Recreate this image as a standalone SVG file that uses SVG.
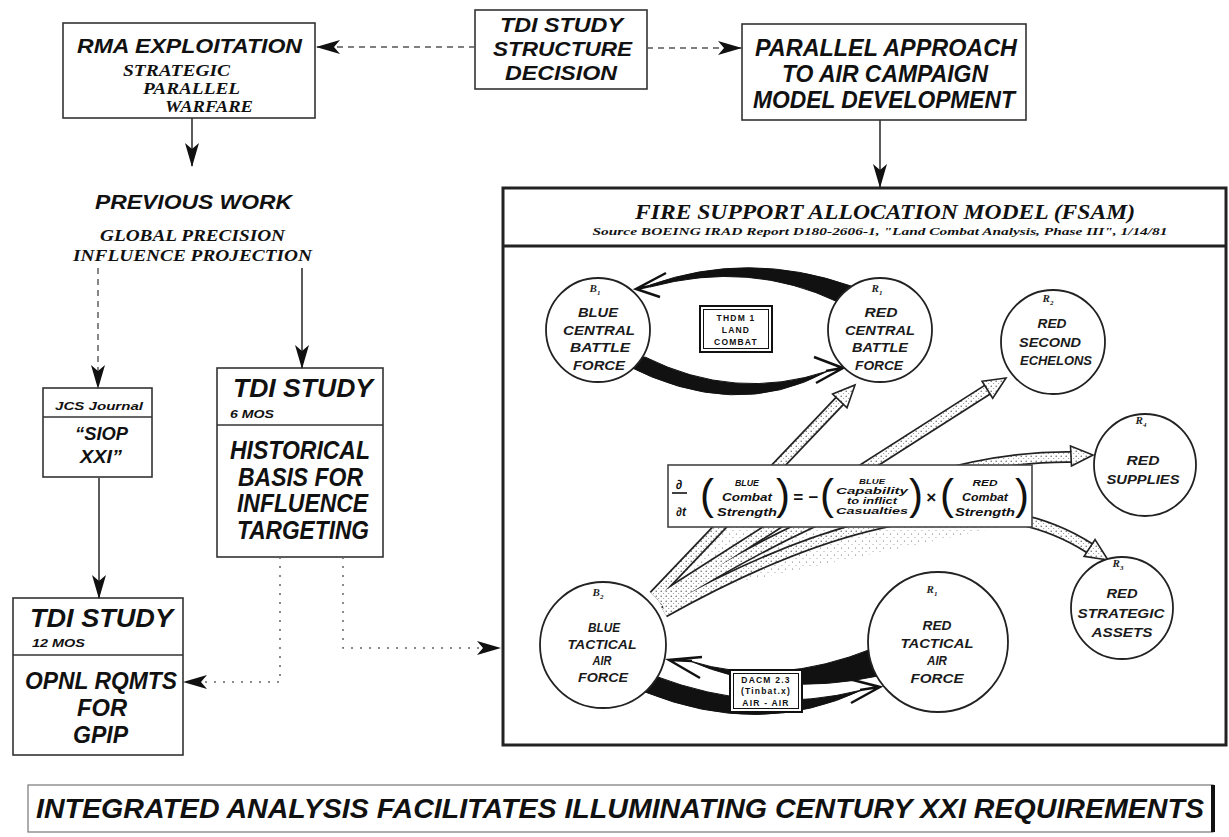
<svg xmlns="http://www.w3.org/2000/svg" width="1229" height="837" viewBox="0 0 1229 837">
<defs>
<style>
.s{font-family:"Liberation Sans",Arial,sans-serif;font-weight:bold;font-style:italic;fill:#111}
.r{font-family:"Liberation Serif","Times New Roman",serif;font-weight:bold;font-style:italic;fill:#111}
.box{fill:#fff;stroke:#333;stroke-width:1.6}
.c{fill:#fff;stroke:#222;stroke-width:1.8}
.ct{font-family:"Liberation Sans",Arial,sans-serif;font-weight:bold;font-style:italic;font-size:12px;text-anchor:middle;fill:#1a1a1a}
.lbl{font-family:"Liberation Serif","Times New Roman",serif;font-style:italic;font-weight:bold;font-size:11px;text-anchor:middle;fill:#222}
.solid{fill:none;stroke:#333;stroke-width:1.6}
.dash{fill:none;stroke:#555;stroke-width:1.4;stroke-dasharray:6 5}
.dot{fill:none;stroke:#666;stroke-width:1.5;stroke-dasharray:2 7}
.thick{fill:#111;stroke:#111;stroke-width:1}
.harp{fill:none;stroke:#111;stroke-width:2.5;stroke-linejoin:miter}
.bo{fill:none;stroke:#222;stroke-width:12}
.bi{fill:none;stroke:url(#stip);stroke-width:8.5}
.bh{fill:url(#stip);stroke:#222;stroke-width:1.6;stroke-linejoin:miter}
.eq{font-family:"Liberation Sans",Arial,sans-serif;font-weight:bold;font-style:italic;text-anchor:middle;fill:#111}
.par{font-family:"Liberation Sans",Arial,sans-serif;font-size:42px;text-anchor:middle;fill:#111}
.sm{font-family:"Liberation Sans",Arial,sans-serif;font-weight:bold;font-size:8.5px;letter-spacing:1.2px;text-anchor:middle;fill:#111}
</style>
<pattern id="stip" width="5" height="5" patternUnits="userSpaceOnUse">
<rect width="5" height="5" fill="#fff"/>
<circle cx="1.2" cy="1.2" r="0.7" fill="#555"/>
<circle cx="3.7" cy="3.6" r="0.5" fill="#777"/>
</pattern>
<pattern id="stip2" width="7" height="7" patternUnits="userSpaceOnUse">
<circle cx="1.5" cy="2" r="0.6" fill="#666"/>
<circle cx="5" cy="5.5" r="0.5" fill="#888"/>
</pattern>
<marker id="ah" markerUnits="userSpaceOnUse" markerWidth="24" markerHeight="14" refX="23" refY="7" orient="auto">
<path d="M0,0 L24,7 L0,14 L6,7 Z" fill="#111"/>
</marker>
</defs>
<rect width="1229" height="837" fill="#fff"/>

<!-- FSAM frame -->
<g id="fsam">
<rect x="503" y="188" width="723" height="557" fill="#fff" stroke="#222" stroke-width="3"/>
<line x1="503" y1="246" x2="1226" y2="246" stroke="#222" stroke-width="3"/>
<text class="r" x="885" y="219" font-size="22" text-anchor="middle" textLength="500" lengthAdjust="spacingAndGlyphs">FIRE SUPPORT ALLOCATION MODEL (FSAM)</text>
<text class="r" x="880" y="235" font-size="10.5" text-anchor="middle" textLength="575" lengthAdjust="spacingAndGlyphs">Source  BOEING IRAD Report  D180-2606-1, "Land Combat Analysis, Phase III", 1/14/81</text>
</g>

<!-- stippled interaction bands -->
<g id="bands">
<polygon points="656,600 722,527 1000,527" fill="url(#stip2)"/>
<path class="bo" d="M654 596 L839.8 400.9"/>
<path class="bo" d="M658 600 L987.4 389.7"/>
<path class="bo" d="M662 605 Q900 455 1071 457"/>
<path class="bo" d="M664 612 Q945 455 1089.5 548.1"/>
<path class="bi" d="M654 596 L839.8 400.9"/>
<path class="bi" d="M658 600 L987.4 389.7"/>
<path class="bi" d="M662 605 Q900 455 1071 457"/>
<path class="bi" d="M664 612 Q945 455 1089.5 548.1"/>
<polygon class="bh" points="832.6,394 855,385 847,407.8"/>
<polygon class="bh" points="982.1,381.3 1006,378 992.7,398.2"/>
<polygon class="bh" points="1070.5,446 1093,455 1071.5,466"/>
<polygon class="bh" points="1095.1,539.6 1108,560 1084.1,556.4"/>
</g>

<!-- equation -->
<g id="equation">
<rect x="668" y="465" width="364" height="62" fill="#fff" stroke="#444" stroke-width="1.6"/>
<text class="eq" x="679" y="489" font-size="13">∂</text>
<line x1="672" y1="493" x2="687" y2="493" stroke="#111" stroke-width="1.6"/>
<text class="eq" x="681" y="516" font-size="12">∂t</text>
<text class="par" x="707" y="509">(</text>
<text class="eq" x="747" y="486" font-size="9" textLength="24" lengthAdjust="spacingAndGlyphs">BLUE</text>
<text class="eq" x="747" y="501" font-size="10" textLength="50" lengthAdjust="spacingAndGlyphs">Combat</text>
<text class="eq" x="747" y="516" font-size="10" textLength="60" lengthAdjust="spacingAndGlyphs">Strength</text>
<text class="par" x="783" y="509">)</text>
<text class="eq" x="798" y="503" font-size="17" font-style="normal">=</text>
<text class="eq" x="813" y="503" font-size="17" font-style="normal">−</text>
<text class="par" x="827" y="509">(</text>
<text class="eq" x="872" y="484" font-size="8" textLength="26" lengthAdjust="spacingAndGlyphs">BLUE</text>
<text class="eq" x="872" y="494" font-size="9" textLength="72" lengthAdjust="spacingAndGlyphs">Capability</text>
<text class="eq" x="872" y="504" font-size="9" textLength="50" lengthAdjust="spacingAndGlyphs">to inflict</text>
<text class="eq" x="872" y="514" font-size="9" textLength="72" lengthAdjust="spacingAndGlyphs">Casualties</text>
<text class="par" x="916" y="509">)</text>
<text class="eq" x="931" y="503" font-size="17" font-style="normal">×</text>
<text class="par" x="947" y="509">(</text>
<text class="eq" x="985" y="486" font-size="9" textLength="25" lengthAdjust="spacingAndGlyphs">RED</text>
<text class="eq" x="985" y="501" font-size="10" textLength="46" lengthAdjust="spacingAndGlyphs">Combat</text>
<text class="eq" x="985" y="516" font-size="10" textLength="60" lengthAdjust="spacingAndGlyphs">Strength</text>
<text class="par" x="1022" y="509">)</text>
</g>

<!-- thick combat arcs -->
<g id="combat-arcs">
<path class="thick" d="M650 285 Q748 250 851 286 L838 302 Q750 260 650 287 Z"/>
<path class="harp" d="M650 286 L637 289 M666 273 L636 289 L660 297"/>
<path class="thick" d="M624 364 Q735 422 828 371 Q735 402 645 357 Z"/>
<path class="harp" d="M826 371 L842 368 M814 357 L843 368 L816 383"/>
<path class="thick" d="M874 648 Q775 688 690 661 Q775 698 878 676 Z"/>
<path class="harp" d="M692 661 L670 660 M702 657 L669 660 L700 678"/>
<path class="thick" d="M645 692 Q760 738 862 690 Q760 716 655 676 Z"/>
<path class="harp" d="M860 690 L879 687 M849 679 L880 687 L851 703"/>
</g>

<g id="thdm">
<rect x="700" y="306" width="72" height="46" fill="#fff" stroke="#111" stroke-width="2"/>
<rect x="703.5" y="309.5" width="65" height="39" fill="none" stroke="#111" stroke-width="1"/>
<text class="sm" x="736" y="321">THDM 1</text>
<text class="sm" x="736" y="333">LAND</text>
<text class="sm" x="736" y="345">COMBAT</text>
</g>

<g id="dacm">
<rect x="730" y="670" width="72" height="42" fill="#fff" stroke="#111" stroke-width="2"/>
<rect x="733.5" y="673.5" width="65" height="35" fill="none" stroke="#111" stroke-width="1"/>
<text class="sm" x="766" y="683" letter-spacing="0.6">DACM 2.3</text>
<text class="sm" x="766" y="694" letter-spacing="0.3">(Tinbat.x)</text>
<text class="sm" x="766" y="706" letter-spacing="0.6">AIR - AIR</text>
</g>

<!-- force circles -->
<g id="blue-central">
<circle class="c" cx="598" cy="330" r="52"/>
<text class="lbl" x="595" y="292">B<tspan font-size="7" dy="3">1</tspan></text>
<text class="ct" x="598" y="317" textLength="40" lengthAdjust="spacingAndGlyphs">BLUE</text>
<text class="ct" x="599" y="335" textLength="72" lengthAdjust="spacingAndGlyphs">CENTRAL</text>
<text class="ct" x="600" y="352" textLength="60" lengthAdjust="spacingAndGlyphs">BATTLE</text>
<text class="ct" x="599" y="370" textLength="52" lengthAdjust="spacingAndGlyphs">FORCE</text>
</g>
<g id="red-central">
<circle class="c" cx="880" cy="330" r="52"/>
<text class="lbl" x="877" y="292">R<tspan font-size="7" dy="3">1</tspan></text>
<text class="ct" x="881" y="317" textLength="33" lengthAdjust="spacingAndGlyphs">RED</text>
<text class="ct" x="880" y="335" textLength="70" lengthAdjust="spacingAndGlyphs">CENTRAL</text>
<text class="ct" x="880" y="352" textLength="56" lengthAdjust="spacingAndGlyphs">BATTLE</text>
<text class="ct" x="879" y="370" textLength="48" lengthAdjust="spacingAndGlyphs">FORCE</text>
</g>
<g id="red-second">
<circle class="c" cx="1053" cy="342" r="52"/>
<text class="lbl" x="1048" y="302">R<tspan font-size="7" dy="3">2</tspan></text>
<text class="ct" x="1052" y="328" textLength="29" lengthAdjust="spacingAndGlyphs">RED</text>
<text class="ct" x="1050" y="347" textLength="62" lengthAdjust="spacingAndGlyphs">SECOND</text>
<text class="ct" x="1056" y="365" textLength="72" lengthAdjust="spacingAndGlyphs">ECHELONS</text>
</g>
<g id="red-supplies">
<circle class="c" cx="1145" cy="465" r="51"/>
<text class="lbl" x="1141" y="424">R<tspan font-size="7" dy="3">4</tspan></text>
<text class="ct" x="1143" y="465" textLength="33" lengthAdjust="spacingAndGlyphs">RED</text>
<text class="ct" x="1143" y="484" textLength="73" lengthAdjust="spacingAndGlyphs">SUPPLIES</text>
</g>
<g id="red-strategic">
<circle class="c" cx="1122" cy="608" r="51"/>
<text class="lbl" x="1118" y="567">R<tspan font-size="7" dy="3">3</tspan></text>
<text class="ct" x="1122" y="598" textLength="31" lengthAdjust="spacingAndGlyphs">RED</text>
<text class="ct" x="1121" y="618" textLength="87" lengthAdjust="spacingAndGlyphs">STRATEGIC</text>
<text class="ct" x="1122" y="637" textLength="61" lengthAdjust="spacingAndGlyphs">ASSETS</text>
</g>
<g id="blue-tactical">
<circle class="c" cx="603" cy="645" r="63"/>
<text class="lbl" x="598" y="596">B<tspan font-size="7" dy="3">2</tspan></text>
<text class="ct" x="604" y="632" textLength="32" lengthAdjust="spacingAndGlyphs">BLUE</text>
<text class="ct" x="602" y="649" textLength="69" lengthAdjust="spacingAndGlyphs">TACTICAL</text>
<text class="ct" x="602" y="665" textLength="19" lengthAdjust="spacingAndGlyphs">AIR</text>
<text class="ct" x="603" y="682" textLength="50" lengthAdjust="spacingAndGlyphs">FORCE</text>
</g>
<g id="red-tactical">
<circle class="c" cx="938" cy="642" r="70"/>
<text class="lbl" x="932" y="593">R<tspan font-size="7" dy="3">1</tspan></text>
<text class="ct" x="937" y="630" textLength="29" lengthAdjust="spacingAndGlyphs">RED</text>
<text class="ct" x="937" y="648" textLength="73" lengthAdjust="spacingAndGlyphs">TACTICAL</text>
<text class="ct" x="937" y="665" textLength="20" lengthAdjust="spacingAndGlyphs">AIR</text>
<text class="ct" x="937" y="683" textLength="53" lengthAdjust="spacingAndGlyphs">FORCE</text>
</g>

<!-- top and left nodes -->
<g id="rma">
<rect class="box" x="63" y="23" width="252" height="95"/>
<text class="s" x="77" y="53" font-size="21" textLength="225" lengthAdjust="spacingAndGlyphs">RMA EXPLOITATION</text>
<text class="r" x="123" y="76" font-size="16" textLength="107" lengthAdjust="spacingAndGlyphs">STRATEGIC</text>
<text class="r" x="143" y="94" font-size="16" textLength="97" lengthAdjust="spacingAndGlyphs">PARALLEL</text>
<text class="r" x="165" y="112" font-size="16" textLength="88" lengthAdjust="spacingAndGlyphs">WARFARE</text>
</g>
<g id="tdi-decision">
<rect class="box" x="475" y="10" width="172" height="79"/>
<text class="s" x="500" y="32" font-size="21" textLength="123" lengthAdjust="spacingAndGlyphs">TDI STUDY</text>
<text class="s" x="493" y="56" font-size="21" textLength="139" lengthAdjust="spacingAndGlyphs">STRUCTURE</text>
<text class="s" x="505" y="80" font-size="21" textLength="112" lengthAdjust="spacingAndGlyphs">DECISION</text>
</g>
<g id="parallel">
<rect class="box" x="742" y="24" width="284" height="96"/>
<text class="s" x="755" y="56" font-size="23" textLength="262" lengthAdjust="spacingAndGlyphs">PARALLEL APPROACH</text>
<text class="s" x="782" y="82" font-size="23" textLength="206" lengthAdjust="spacingAndGlyphs">TO AIR CAMPAIGN</text>
<text class="s" x="753" y="108" font-size="23" textLength="262" lengthAdjust="spacingAndGlyphs">MODEL DEVELOPMENT</text>
</g>
<g id="previous-work">
<text class="s" x="95" y="209" font-size="20" textLength="197" lengthAdjust="spacingAndGlyphs">PREVIOUS WORK</text>
<text class="r" x="100" y="241" font-size="17" textLength="185" lengthAdjust="spacingAndGlyphs">GLOBAL PRECISION</text>
<text class="r" x="73" y="261" font-size="17" textLength="239" lengthAdjust="spacingAndGlyphs">INFLUENCE PROJECTION</text>
</g>
<g id="siop">
<rect class="box" x="43" y="388" width="109" height="89"/>
<line x1="43" y1="417" x2="152" y2="417" stroke="#333" stroke-width="1.4"/>
<text class="s" x="55" y="410" font-size="11" font-weight="normal" textLength="88" lengthAdjust="spacingAndGlyphs">JCS Journal</text>
<text class="s" x="75" y="440" font-size="19" textLength="53" lengthAdjust="spacingAndGlyphs">“SIOP</text>
<text class="s" x="80" y="463" font-size="19" textLength="42" lengthAdjust="spacingAndGlyphs">XXI”</text>
</g>
<g id="tdi-6mos">
<rect class="box" x="217" y="368" width="166" height="189"/>
<line x1="217" y1="425" x2="383" y2="425" stroke="#333" stroke-width="1.4"/>
<text class="s" x="233" y="397" font-size="25" textLength="140" lengthAdjust="spacingAndGlyphs">TDI STUDY</text>
<text class="s" x="230" y="418" font-size="11" textLength="44" lengthAdjust="spacingAndGlyphs">6 MOS</text>
<text class="s" x="230" y="459" font-size="25" textLength="140" lengthAdjust="spacingAndGlyphs">HISTORICAL</text>
<text class="s" x="238" y="486" font-size="25" textLength="125" lengthAdjust="spacingAndGlyphs">BASIS FOR</text>
<text class="s" x="237" y="512" font-size="25" textLength="131" lengthAdjust="spacingAndGlyphs">INFLUENCE</text>
<text class="s" x="237" y="539" font-size="25" textLength="132" lengthAdjust="spacingAndGlyphs">TARGETING</text>
</g>
<g id="tdi-12mos">
<rect class="box" x="13" y="598" width="170" height="157"/>
<line x1="13" y1="655" x2="183" y2="655" stroke="#333" stroke-width="1.4"/>
<text class="s" x="30" y="627" font-size="25" textLength="143" lengthAdjust="spacingAndGlyphs">TDI STUDY</text>
<text class="s" x="32" y="647" font-size="11" textLength="53" lengthAdjust="spacingAndGlyphs">12 MOS</text>
<text class="s" x="25" y="689" font-size="24" textLength="152" lengthAdjust="spacingAndGlyphs">OPNL RQMTS</text>
<text class="s" x="77" y="716" font-size="24" textLength="50" lengthAdjust="spacingAndGlyphs">FOR</text>
<text class="s" x="73" y="743" font-size="24" textLength="55" lengthAdjust="spacingAndGlyphs">GPIP</text>
</g>

<g id="connectors">
<line class="dash" x1="475" y1="47" x2="317" y2="47" marker-end="url(#ah)"/>
<line class="dash" x1="647" y1="48" x2="741" y2="48" marker-end="url(#ah)"/>
<line class="solid" x1="880" y1="120" x2="880" y2="187" marker-end="url(#ah)"/>
<line class="solid" x1="192" y1="118" x2="192" y2="166" marker-end="url(#ah)"/>
<line class="dash" x1="98" y1="268" x2="98" y2="388" marker-end="url(#ah)"/>
<line class="solid" x1="302" y1="268" x2="302" y2="368" marker-end="url(#ah)"/>
<line class="solid" x1="99" y1="478" x2="99" y2="598" stroke-width="2.4" marker-end="url(#ah)"/>
<path class="dot" d="M280 557 V682 H184" marker-end="url(#ah)"/>
<path class="dot" d="M343 557 V648 H500" marker-end="url(#ah)"/>
</g>

<g id="banner">
<rect x="28" y="785" width="1185" height="47" fill="#fff" stroke="#777" stroke-width="1.2"/>
<line x1="1213" y1="785" x2="1213" y2="832" stroke="#111" stroke-width="4"/>
<text class="s" x="620" y="818" font-size="27" text-anchor="middle" textLength="1168" lengthAdjust="spacingAndGlyphs">INTEGRATED ANALYSIS FACILITATES ILLUMINATING CENTURY XXI REQUIREMENTS</text>
</g>
</svg>
